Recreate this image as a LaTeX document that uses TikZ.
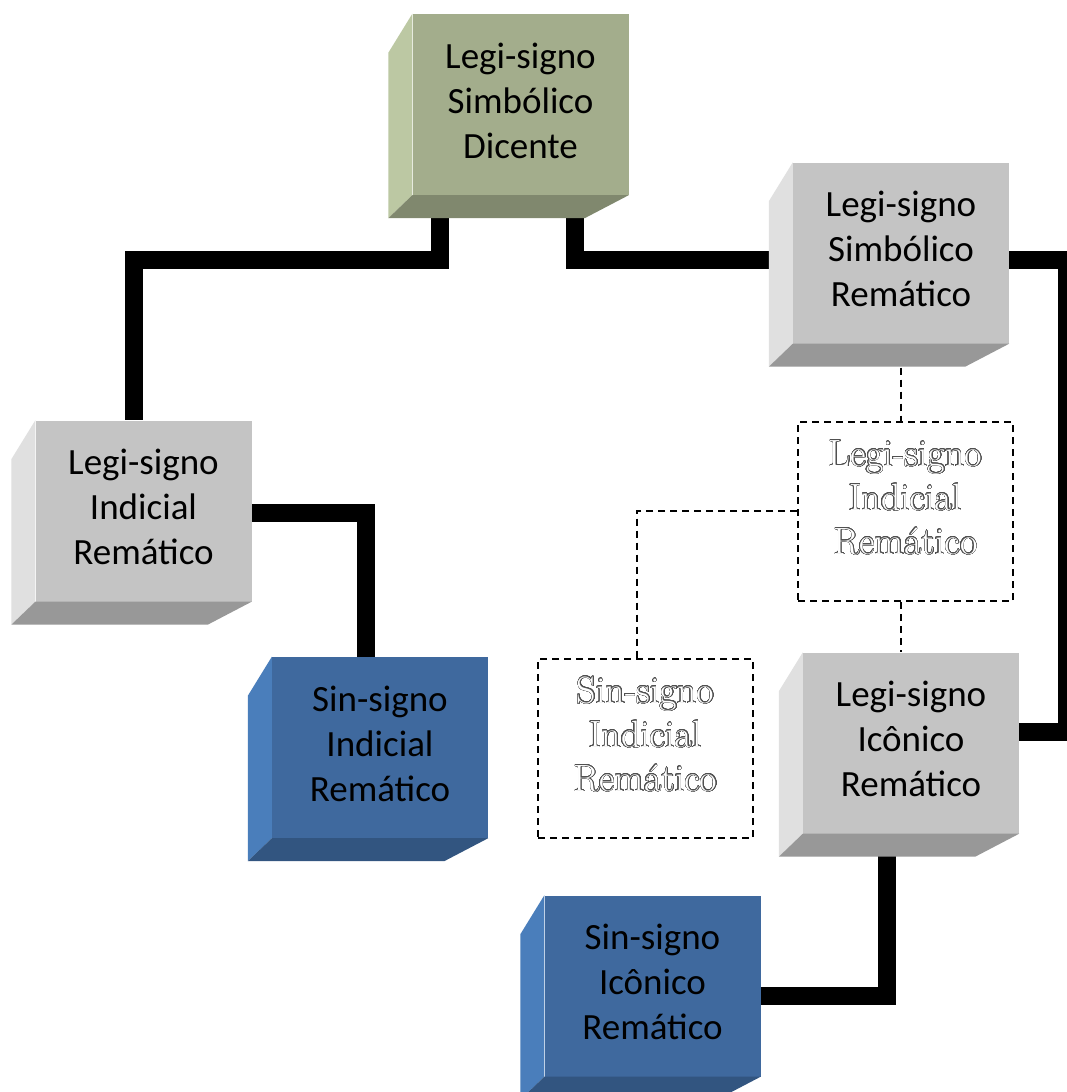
\documentclass[tikz,border=0pt]{standalone}
\usepackage{fontspec}
\setsansfont{Carlito}
\usepackage{contour}
\contourlength{0.45pt}
\contournumber{32}
\usetikzlibrary{calc,backgrounds}
\definecolor{grnF}{RGB}{163,173,140}
\definecolor{grnS}{RGB}{188,200,163}
\definecolor{grnB}{RGB}{128,136,110}
\definecolor{gryF}{RGB}{196,196,196}
\definecolor{gryS}{RGB}{224,224,224}
\definecolor{gryB}{RGB}{152,152,152}
\definecolor{bluF}{RGB}{63,105,158}
\definecolor{bluS}{RGB}{74,126,187}
\definecolor{bluB}{RGB}{50,85,128}
\definecolor{olc}{RGB}{80,80,80}
\newcommand\olt[1]{\contour{olc}{#1}}
\newcommand\cubetext[1]{\raisebox{0.5pt}[\height][\depth]{\begin{tabular}{@{}c@{}}#1\end{tabular}}}
\newcommand\dtext[1]{\raisebox{10pt}[\height][\depth]{\begin{tabular}{@{}c@{}}#1\end{tabular}}}
\newcommand\cubefaces[3]{%
  \fill[#2] (#1.north west) -- ++(-24,39) -- ($(#1.south west)+(-24,23)$) -- (#1.south west) -- cycle;
  \fill[#3] (#1.south west) -- (#1.south east) -- ++(-44,23) -- ($(#1.south west)+(-24,23)$) -- cycle;}
\tikzset{
  cube/.style={inner sep=0pt, minimum width=216pt, minimum height=181pt,
    font=\sffamily\fontsize{37}{45}\selectfont, fill=#1},
  dbox/.style={draw=black, line width=2pt, dash pattern=on 7pt off 5pt, inner sep=0pt,
    minimum width=215pt, minimum height=179pt,
    font=\rmfamily\fontsize{38}{44}\selectfont, text=white},
  conn/.style={line width=18pt, line join=miter, line cap=butt},
  dconn/.style={line width=2pt, dash pattern=on 7pt off 5pt}
}
\begin{document}
\begin{tikzpicture}[x=1pt,y=-1pt]
\useasboundingbox (0,0) rectangle (1066,1092);
% cubes
\node[cube=grnF] (A) at (520.5,104.5) {\cubetext{Legi-signo\\Simbólico\\Dicente}};
\cubefaces{A}{grnS}{grnB}
\node[cube=gryF] (B) at (901,253) {\cubetext{Legi-signo\\Simbólico\\Remático}};
\cubefaces{B}{gryS}{gryB}
\node[cube=gryF] (C) at (143.5,511) {\cubetext{Legi-signo\\Indicial\\Remático}};
\cubefaces{C}{gryS}{gryB}
\node[cube=bluF] (D) at (380,747.5) {\cubetext{Sin-signo\\Indicial\\Remático}};
\cubefaces{D}{bluS}{bluB}
\node[cube=bluF] (E) at (652.5,986) {\cubetext{Sin-signo\\Icônico\\Remático}};
\cubefaces{E}{bluS}{bluB}
\node[cube=gryF] (F) at (911,743) {\cubetext{Legi-signo\\Icônico\\Remático}};
\cubefaces{F}{gryS}{gryB}
% dashed boxes
\node[dbox] (G) at (905.5,511.5) {\dtext{\olt{Legi-signo}\\\olt{Indicial}\\\olt{Remático}}};
\node[dbox] (H) at (645.5,748.5) {\dtext{\olt{Sin-signo}\\\olt{Indicial}\\\olt{Remático}}};
% connectors
\begin{scope}[on background layer]
\fill[white] (0,0) rectangle (1066,1092);
\draw[conn] ($(A.south west)+(28,0)$) -- ++(0,65) -| ($(C.north west)+(99,0)$);
\draw[conn] ($(A.south east)+(-54,0)$) |- ($(B.west)+(0,7)$);
\draw[conn] ($(B.east)+(0,7)$) -| ($(F.east)+(48,-11)$) -- ($(F.east)+(0,-11)$);
\draw[conn] ($(C.east)+(0,1.5)$) -| ($(D.north west)+(94,0)$);
\draw[conn] ($(F.south west)+(84,0)$) |- ($(E.east)+(0,10)$);
\draw[dconn] (B.south) -- (B.south |- G.north);
\draw[dconn] (G.south -| B.south) -- (F.north -| B.south);
\draw[dconn] ($(G.west)+(0,-1)$) -| ($(H.north)+(-8.5,0)$);
\end{scope}
\end{tikzpicture}
\end{document}
